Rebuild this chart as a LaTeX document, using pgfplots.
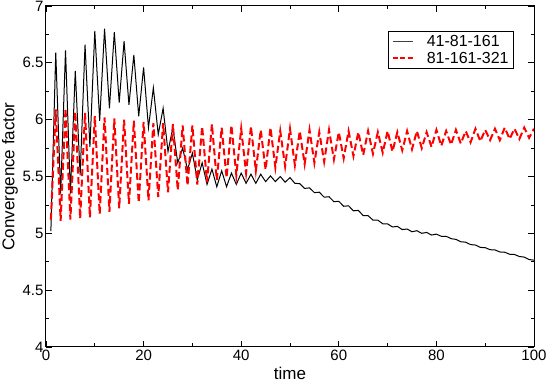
\documentclass[border=0pt]{standalone}
\usepackage{fontspec}
\setmainfont{Liberation Sans}
\usepackage{pgfplots}
\pgfplotsset{compat=1.18}
\begin{document}
\begin{tikzpicture}
\path[use as bounding box] (-46pt,-35pt) rectangle (500pt,347pt);
\begin{axis}[
  at={(0pt,0pt)}, anchor=south west,
  width=488pt, height=341pt, scale only axis,
  xmin=0, xmax=100, ymin=4, ymax=7,
  xtick={0,20,40,60,80,100}, minor x tick num=1,
  ytick={4,4.5,5,5.5,6,6.5,7}, minor y tick num=1,
  tick align=inside,
  major tick length=6pt, minor tick length=3.5pt,
  every tick/.style={black, line width=0.8pt},
  axis line style={black, line width=1pt},
  /pgf/number format/assume math mode=true,
  ticklabel style={font=\fontsize{15}{15}\selectfont},
  xticklabel style={yshift=1pt},
  yticklabel style={xshift=1pt},
  xlabel={time}, ylabel={Convergence factor},
  label style={font=\fontsize{17}{17}\selectfont},
  xlabel style={at={(axis description cs:0.5,-0.077)}, anchor=center},
  ylabel style={at={(axis description cs:-0.074,0.5)}, anchor=center, rotate=0},
  legend style={at={(0.959,0.927)}, anchor=north east, draw=black, line width=0.8pt,
    font=\fontsize{16}{19}\selectfont, inner xsep=3pt, inner ysep=2pt, row sep=0pt,
    /tikz/every odd column/.append style={column sep=11pt}},
  legend cell align=left,
  legend image code/.code={\draw[#1] (0pt,0pt) -- (20pt,0pt);},
]
\addlegendimage{black!75, line width=1pt}
\addlegendentry{41-81-161}
\addlegendimage{red, line width=2pt, dash pattern=on 5pt off 2.5pt}
\addlegendentry{81-161-321}
\addplot[black, line width=1pt, line join=miter, forget plot] coordinates {
(1,5.02) (2,6.59) (3,5.35) (4,6.61) (5,5.35) (6,6.43) (7,5.51) (8,6.66) (9,5.76) (10,6.78)
(11,5.99) (12,6.80) (13,6.10) (14,6.77) (15,6.15) (16,6.69) (17,6.13) (18,6.57) (19,6.03) (20,6.46)
(21,5.93) (22,6.28) (23,5.87) (24,6.10) (25,5.72) (26,5.93) (27,5.62) (28,5.75) (29,5.56) (30,5.705)
(31,5.47) (32,5.62) (33,5.43) (34,5.565) (35,5.41) (36,5.55) (37,5.41) (38,5.53) (39,5.43) (40,5.53)
(41,5.44) (42,5.52) (43,5.44) (44,5.52) (45,5.455) (46,5.505) (47,5.455) (48,5.50) (49,5.45) (50,5.49)
(51,5.44) (52,5.437) (53,5.395) (54,5.400) (55,5.358) (56,5.362) (57,5.318) (58,5.322) (59,5.278) (60,5.282)
(61,5.238) (62,5.242) (63,5.198) (64,5.202) (65,5.156) (66,5.155) (67,5.117) (68,5.116) (69,5.084) (70,5.083)
(71,5.056) (72,5.061) (73,5.033) (74,5.038) (75,5.014) (76,5.023) (77,5.000) (78,5.008) (79,4.985) (80,4.993)
(81,4.974) (82,4.974) (83,4.953) (84,4.947) (85,4.926) (86,4.922) (87,4.901) (88,4.897) (89,4.876) (90,4.874)
(91,4.856) (92,4.854) (93,4.836) (94,4.834) (95,4.816) (96,4.814) (97,4.796) (98,4.791) (99,4.769) (100,4.764)
};
\addplot[red, line width=2pt, dash pattern=on 7pt off 3.5pt, forget plot] coordinates {
(1,5.12) (2,6.09) (3,5.11) (4,6.10) (5,5.12) (6,6.07) (7,5.13) (8,6.06) (9,5.14) (10,6.03)
(11,5.17) (12,6.02) (13,5.19) (14,6.01) (15,5.22) (16,6.00) (17,5.26) (18,5.99) (19,5.27) (20,5.98)
(21,5.29) (22,5.97) (23,5.32) (24,5.97) (25,5.36) (26,5.96) (27,5.38) (28,5.95) (29,5.42) (30,5.95)
(31,5.43) (32,5.94) (33,5.45) (34,5.96) (35,5.47) (36,5.93) (37,5.49) (38,5.95) (39,5.51) (40,5.92)
(41,5.53) (42,5.94) (43,5.55) (44,5.91) (45,5.56) (46,5.93) (47,5.58) (48,5.90) (49,5.59) (50,5.92)
(51,5.60) (52,5.90) (53,5.61) (54,5.91) (55,5.62) (56,5.89) (57,5.63) (58,5.91) (59,5.65) (60,5.89)
(61,5.66) (62,5.90) (63,5.68) (64,5.89) (65,5.69) (66,5.90) (67,5.70) (68,5.89) (69,5.71) (70,5.90)
(71,5.72) (72,5.89) (73,5.73) (74,5.90) (75,5.74) (76,5.90) (77,5.75) (78,5.89) (79,5.76) (80,5.91)
(81,5.77) (82,5.90) (83,5.78) (84,5.91) (85,5.79) (86,5.90) (87,5.80) (88,5.92) (89,5.81) (90,5.91)
(91,5.82) (92,5.92) (93,5.82) (94,5.93) (95,5.83) (96,5.92) (97,5.83) (98,5.93) (99,5.84) (100,5.92)
};
\end{axis}
\end{tikzpicture}
\end{document}
